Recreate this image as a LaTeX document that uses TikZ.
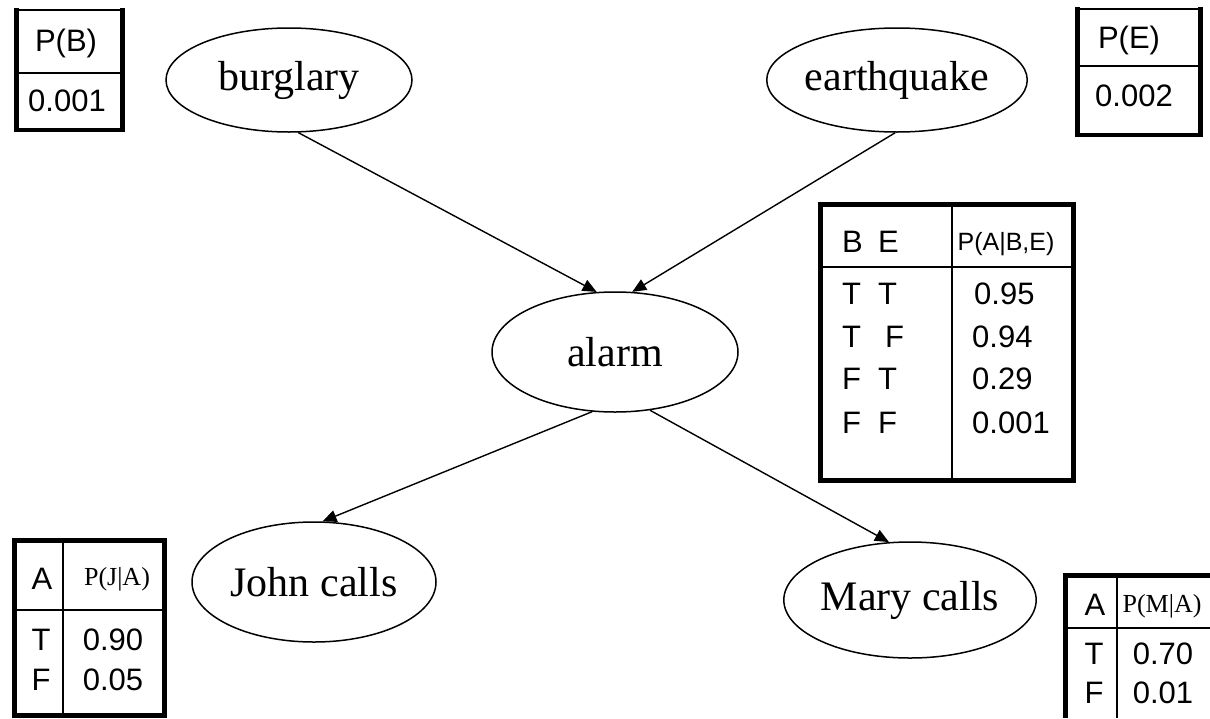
\documentclass[tikz,border=0pt]{standalone}
\usepackage{fontspec}
\setmainfont{Liberation Serif}
\newfontfamily\arial{Liberation Sans}
\usetikzlibrary{shapes.geometric,arrows.meta}
\begin{document}
\begin{tikzpicture}[x=1pt,y=-1pt,
  var/.style={draw,ellipse,line width=1.5pt,inner sep=0pt,font=\fontsize{42}{42}\selectfont},
  link/.style={line width=1.4pt,-{Triangle[length=14pt,width=12pt]}},
  heavy rule/.style={line width=5pt},
  light rule/.style={line width=2pt},
  cell/.style={inner sep=0pt,anchor=base,font=\arial\fontsize{31}{31}\selectfont},
  lcell/.style={cell,anchor=base west},
  hcell/.style={inner sep=0pt,anchor=base,font=\arial\fontsize{25}{25}\selectfont},
  tcell/.style={inner sep=0pt,anchor=base,font=\fontsize{26}{26}\selectfont}]
\useasboundingbox (0,0) rectangle (1210,718);

% network nodes
\node[var,minimum width=246pt,minimum height=104pt] (burglary) at (289,80) {burglary};
\node[var,minimum width=248pt,minimum height=104pt] (earthquake) at (897,80) {earthquake};
\node[var,minimum width=246pt,minimum height=120pt] (alarm) at (615,352) {alarm};
\node[var,minimum width=244pt,minimum height=120pt] (john) at (314,582) {John calls};
\node[var,minimum width=244pt,minimum height=116pt] (mary) at (910,600) {Mary calls};

% causal links
\draw[link] (burglary.-80) -- (alarm.107);
\draw[link] (earthquake.-92) -- (alarm.74);
\draw[link] (alarm.-111) -- (john.82);
\draw[link] (alarm.-59) -- (mary.110);

% P(B)
\draw[light rule] (16,10) -- (122,10) (16,73) -- (122,73);
\draw[line width=4pt] (14,129.5) -- (125,129.5);
\draw[heavy rule] (16.5,8) -- (16.5,131.5) (122.5,8) -- (122.5,131.5);
\node[cell] (pb) at (66,51) {P(B)};
\node[cell] (pbv) at (67,111) {0.001};

% P(E)
\draw[light rule] (1077,9) -- (1200,9) (1077,66) -- (1200,66);
\draw[line width=4pt] (1074.5,135) -- (1203,135);
\draw[heavy rule] (1077,7) -- (1077,137) (1200.5,7) -- (1200.5,137);
\node[cell] (pe) at (1129,48) {P(E)};
\node[cell] (pev) at (1134,106) {0.002};

% P(A|B,E)
\draw[heavy rule] (820.5,204.5) rectangle (1073.5,480.5);
\draw[light rule] (952,204.5) -- (952,480.5) (820.5,267) -- (1073.5,267);
\node[lcell] (hb) at (842,252) {B};
\node[lcell] (he) at (878,252) {E};
\node[hcell] (hpa) at (1006,250) {P(A|B,E)};
\node[lcell] (b1) at (842,304) {T};
\node[lcell] (e1) at (878,304) {T};
\node[lcell] (b2) at (842,347) {T};
\node[lcell] (e2) at (885,347) {F};
\node[lcell] (b3) at (842,389) {F};
\node[lcell] (e3) at (878,389) {T};
\node[lcell] (b4) at (842,433) {F};
\node[lcell] (e4) at (878,433) {F};
\node[lcell] (a1) at (974,304) {0.95};
\node[lcell] (a2) at (972,347) {0.94};
\node[lcell] (a3) at (972,389) {0.29};
\node[lcell] (a4) at (972,433) {0.001};

% P(J|A)
\draw[heavy rule] (14.5,540.5) rectangle (164,715.5);
\draw[light rule] (63,540.5) -- (63,715.5) (14.5,610) -- (164,610);
\node[cell] (ja) at (42,589) {A};
\node[tcell] (jp) at (117,585) {P(J|A)};
\node[cell] (jt) at (41,650) {T};
\node[cell] (jf) at (41,690) {F};
\node[cell] (jtv) at (113,650) {0.90};
\node[cell] (jfv) at (113,690) {0.05};

% P(M|A)
\draw[heavy rule] (1065.5,718) -- (1065.5,575) -- (1210,575);
\draw[light rule] (1117,575) -- (1117,718) (1065.5,628) -- (1210,628);
\node[cell] (ma) at (1095,615) {A};
\node[tcell] (mp) at (1162,612) {P(M|A)};
\node[cell] (mt) at (1094,664) {T};
\node[cell] (mf) at (1094,703) {F};
\node[cell] (mtv) at (1163,664) {0.70};
\node[cell] (mfv) at (1163,703) {0.01};
\end{tikzpicture}
\end{document}
